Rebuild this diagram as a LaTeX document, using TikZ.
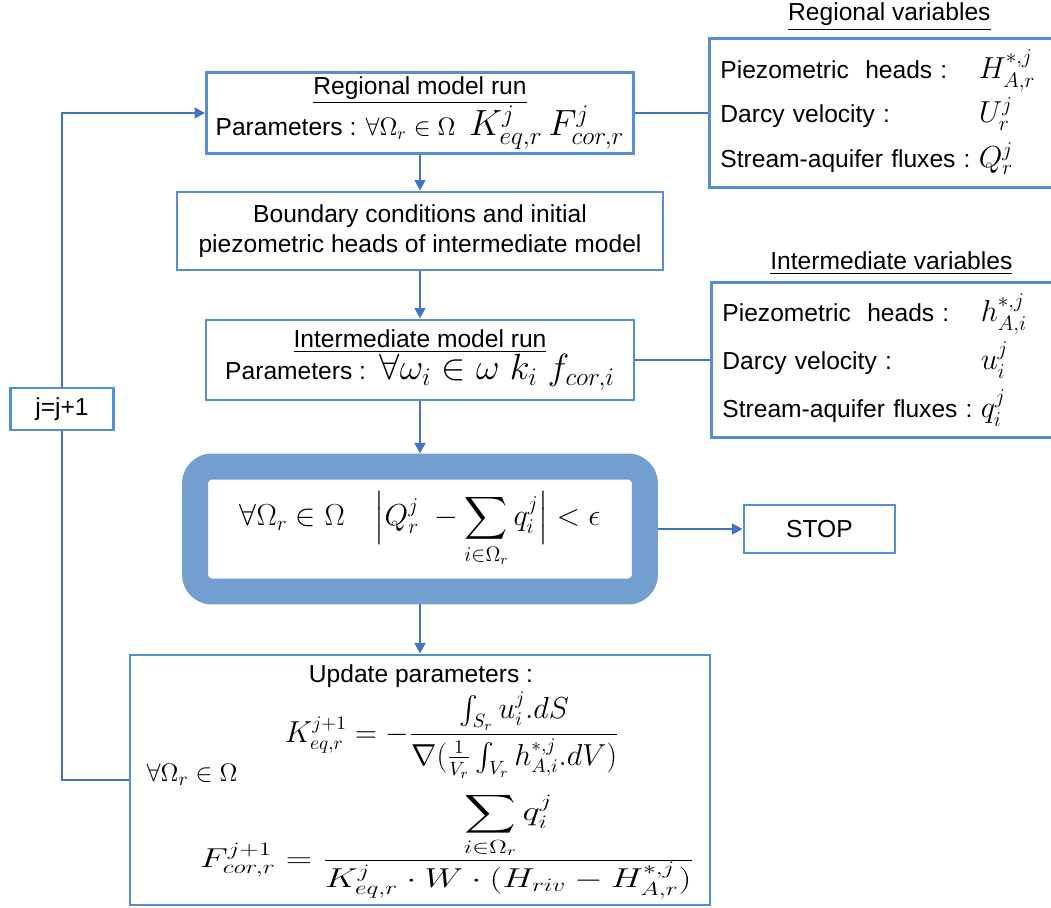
\documentclass[tikz,border=0pt]{standalone}
\usepackage{amsmath,amssymb}
\usepackage[no-math]{fontspec}
\setmainfont{Liberation Sans}
\usepackage{xcolor}
\usetikzlibrary{positioning,arrows.meta}
\pgfdeclarelayer{nodelayer}
\pgfdeclarelayer{edgelayer}
\pgfsetlayers{main,nodelayer,edgelayer}
\definecolor{boxblue}{RGB}{85,142,213}
\definecolor{lineblue}{RGB}{68,114,196}
\definecolor{testblue}{RGB}{114,159,207}
\tikzstyle{step_box}=[rectangle, draw=boxblue, line width=1.6pt, fill=white, align=center, inner sep=2pt]
\tikzstyle{var_box}=[rectangle, draw=boxblue, line width=1.6pt, fill=white, align=left, anchor=west, inner sep=0.22cm, text width=6.76cm]
\tikzstyle{var_title}=[inner sep=0pt]
\tikzstyle{test_box}=[rectangle, rounded corners=0.34cm, draw=testblue, line width=0.52cm, fill=white]
\tikzstyle{flow}=[-{Triangle[length=6pt,width=6pt]}, draw=lineblue, line width=1.5pt]
\tikzstyle{link}=[-, draw=lineblue, line width=1.5pt]
\newcommand{\txtsize}{\fontsize{14}{17}\selectfont}
\newcommand{\mathbig}{\fontsize{18}{20}\selectfont}
\newcommand{\mathmid}{\fontsize{16}{19}\selectfont}

\begin{document}
\begin{tikzpicture}[x=0.02cm, y=-0.02cm, every node/.style={font=\txtsize}]
    \clip (0,0) rectangle (1051,907);
    \begin{pgfonlayer}{nodelayer}
        %Main loop
        \node [style=step_box, minimum width=8.54cm, minimum height=1.6cm] (reg) at (420,113) {\underline{Regional model run}\\Parameters : $\forall\Omega_r\in\Omega$\ \ {\fontsize{20}{22}\selectfont$K^j_{eq,r}\,F^j_{cor,r}$}};
        \node [style=step_box, minimum width=9.72cm, minimum height=1.56cm] (bnd) at (420,231) {Boundary conditions and initial\\piezometric heads of intermediate model};
        \node [style=step_box, minimum width=8.56cm, minimum height=1.6cm] (inter) at (420,360) {\underline{Intermediate model run}\\Parameters :\ \ {\fontsize{21}{23}\selectfont$\forall\omega_i\in\omega\ k_i\ f_{cor,i}$}};
        \node [style=test_box, minimum width=9.0cm, minimum height=2.5cm] (test) at (420,529) {\fontsize{17}{20}\selectfont$\displaystyle\forall\Omega_r\in\Omega\quad\Bigl|Q^j_r\ -\sum_{i\in\Omega_r}q^j_i\Bigr|<\epsilon$};
        \node [style=step_box, minimum width=3.02cm, minimum height=0.96cm] (stop) at (819.5,529) {STOP};
        \node [style=step_box, minimum width=2.06cm, minimum height=0.84cm] (jinc) at (62,409) {j=j+1};

        %Update
        \node [style=step_box, minimum width=11.6cm, minimum height=5cm] (upd) at (420,780) {};
        \node (updtitle) at (421,676) {Update parameters :};
        \node (updall) at (192,775) {{\fontsize{15}{18}\selectfont$\forall\Omega_r\in\Omega$}};
        \node [anchor=base, inner sep=0pt] (updK) at (452,742) {\mathmid$\displaystyle K^{j+1}_{eq,r}=-\frac{\int_{S_r}u^j_i.dS}{\nabla(\frac{1}{V_r}\int_{V_r}h^{*,j}_{A,i}.dV)}$};
        \node [anchor=base, inner sep=0pt] (updF) at (447,867) {\scalebox{1.2}[0.9]{\fontsize{17}{20}\selectfont$\displaystyle F^{j+1}_{cor,r}=\genfrac{}{}{}{1}{\displaystyle\sum_{i\in\Omega_r}q^j_i}{\textstyle K^j_{eq,r}\cdot W\cdot(H_{riv}-H^{*,j}_{A,r})}$}};

        %Variables
        \node [style=var_box, minimum height=2.98cm] (regvar) at (708,113) {\begin{tabular}{@{}l@{\ }l@{}}Piezometric\ \ heads : & {\mathbig$H^{*,j}_{A,r}$}\\[6pt] Darcy velocity : & {\mathbig$U^j_r$}\\[6pt] Stream-aquifer fluxes : & {\mathbig$Q^j_r$}\end{tabular}};
        \node [style=var_title, above=0.12cm of regvar] (regtitle) {\underline{Regional variables}};
        \node [style=var_box, minimum height=2.96cm] (intervar) at (710,360) {\begin{tabular}{@{}l@{\ }l@{}}Piezometric\ \ heads : & {\mathbig$h^{*,j}_{A,i}$}\\[6pt] Darcy velocity : & {\mathbig$u^j_i$}\\[6pt] Stream-aquifer fluxes : & {\mathbig$q^j_i$}\end{tabular}};
        \node [style=var_title, above=0.12cm of intervar] (intertitle) {\underline{Intermediate variables}};
    \end{pgfonlayer}
    \begin{pgfonlayer}{edgelayer}
        \draw [style=flow] (reg) -- (bnd);
        \draw [style=flow] (bnd) -- (inter);
        \draw [style=flow] (inter) -- (test);
        \draw [style=flow] (test) -- (stop);
        \draw [style=flow] (test) -- (upd);
        \draw [style=link] (reg) -- (regvar);
        \draw [style=link] (inter) -- (intervar);
        \draw [style=link] (upd.west) -| (jinc.south);
        \draw [style=flow] (jinc.north) |- (reg.west);
    \end{pgfonlayer}
\end{tikzpicture}
\end{document}
